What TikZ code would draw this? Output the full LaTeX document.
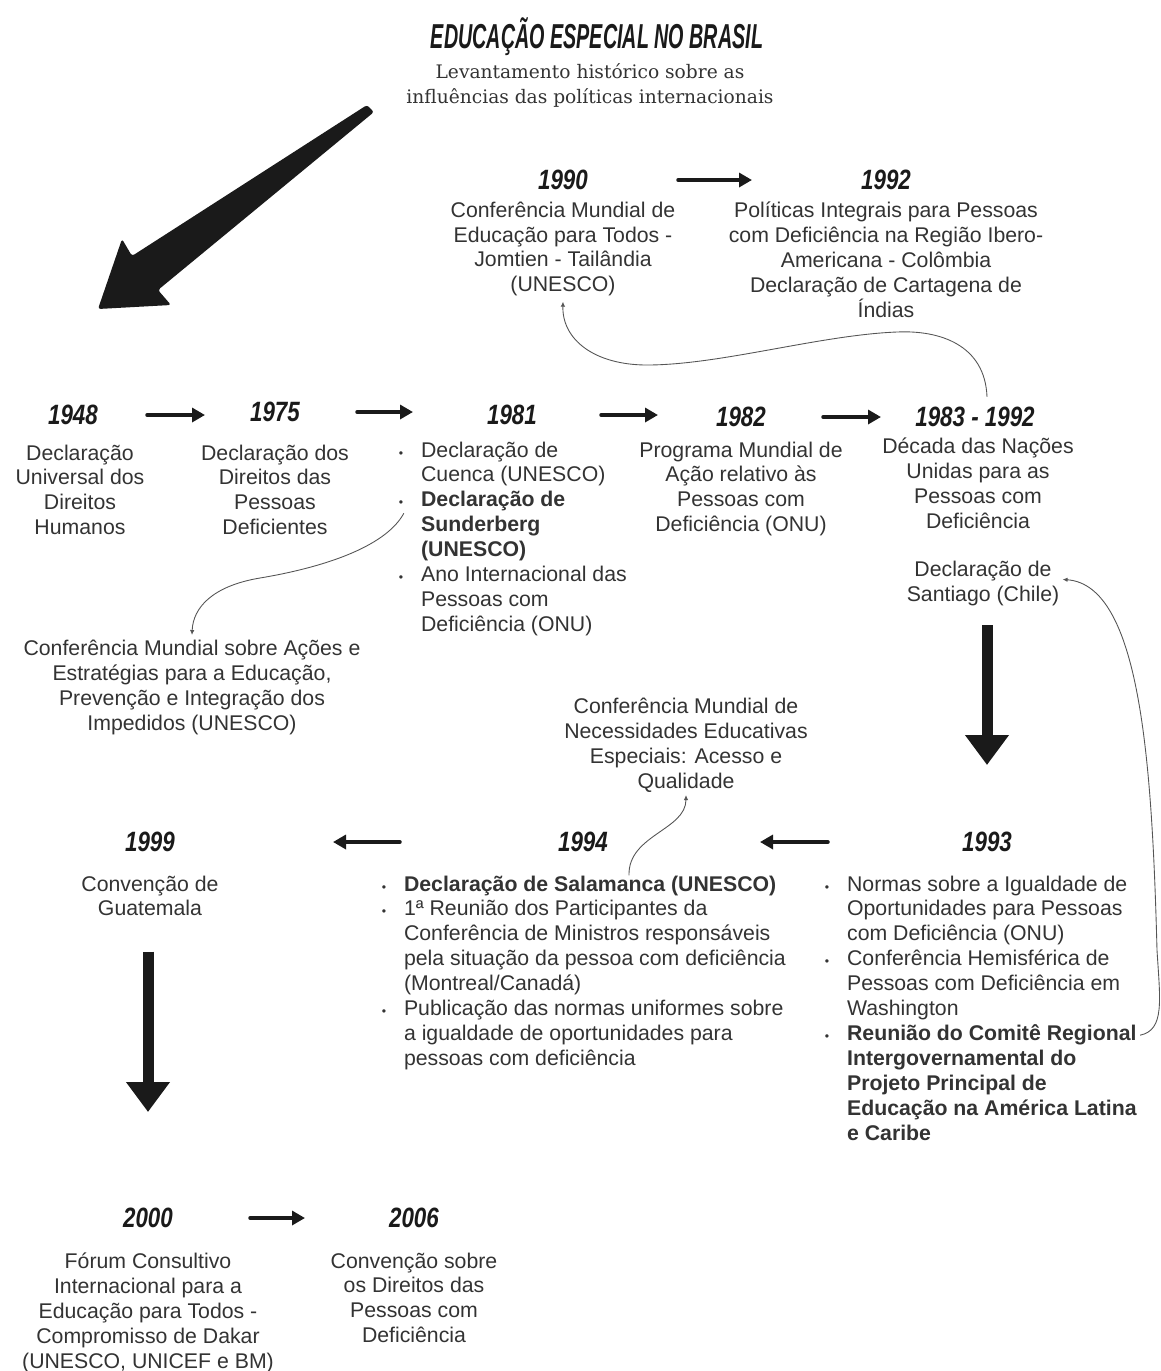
\documentclass[tikz,border=0pt]{standalone}
\usepackage{fontspec}
\setmainfont{Liberation Sans}
\newfontfamily\titlefont{Liberation Sans}[FakeStretch=0.57]
\newfontfamily\yearfont{Liberation Sans}[FakeStretch=0.8]
\newfontfamily\subfont{DejaVu Serif}
\usetikzlibrary{arrows.meta,positioning}

\definecolor{txtgray}{HTML}{333333}
\definecolor{inkblack}{HTML}{1A1A1A}
\definecolor{curvegray}{HTML}{555555}

\newcommand{\bl}{\makebox[13.6pt][l]{\hspace{1pt}\scriptsize\textbullet}}
\newcommand{\ind}{\hspace*{13.6pt}}

\begin{document}
\begin{tikzpicture}[
  x=0.2mm, y=-0.2mm,
  yr/.style  ={font=\yearfont\bfseries\itshape\fontsize{15.9}{18}\selectfont,
               text=inkblack, inner sep=0pt},
  desc/.style={font=\fontsize{12.1}{14.2}\selectfont, text=txtgray,
               align=center, inner sep=0pt},
  lst/.style ={desc, align=left},
  harr/.style={draw=inkblack, line width=0.7mm, line cap=round,
               -{Triangle[length=2.6mm,width=2.8mm]}},
  varr/.style={draw=inkblack, line width=2.2mm,
               -{Triangle[length=6mm,width=8.4mm]}},
  curv/.style={draw=curvegray, line width=0.5pt,
               -{Latex[length=1mm,width=0.9mm]}}
]
\fill[white] (0,0) rectangle (1161,1371);
\useasboundingbox (0,0) rectangle (1161,1371);

% title
\node[font=\titlefont\bfseries\itshape\fontsize{19.7}{22}\selectfont,
      text=inkblack, inner sep=0pt] (title) at (597,37) {EDUCAÇÃO ESPECIAL NO BRASIL};
\node[font=\subfont\fontsize{10.6}{14.2}\selectfont, text=txtgray, align=center,
      inner sep=0pt, anchor=north] (sub) at (590,63)
      {Levantamento histórico sobre as\\influências das políticas internacionais};

% big arrow
\fill[inkblack, rounded corners=1.5pt]
  (367,105) -- (374,112) -- (158,290) -- (171,305) -- (98,309) -- (122,239) -- (132,256) -- cycle;

% top row
\node[yr] (y1990) at (563,180) {1990};
\node[desc, below=2.2mm of y1990] (t1990)
      {Conferência Mundial de\\Educação para Todos -\\Jomtien - Tailândia\\(UNESCO)};
\node[yr] (y1992) at (886,180) {1992};
\node[desc, below=2.2mm of y1992] (t1992)
      {Políticas Integrais para Pessoas\\com Deficiência na Região Ibero-\\Americana - Colômbia\\Declaração de Cartagena de\\Índias};

% middle row
\node[yr] (y1948) at (73,415) {1948};
\node[desc, below=3.8mm of y1948, xshift=1.4mm] (t1948)
      {Declaração\\Universal dos\\Direitos\\Humanos};
\node[yr] (y1975) at (275,412) {1975};
\node[desc, below=4.4mm of y1975] (t1975)
      {Declaração dos\\Direitos das\\Pessoas\\Deficientes};
\node[yr] (y1981) at (512,415) {1981};
\node[lst, below=3.2mm of y1981] (t1981)
      {\bl Declaração de\\
       \ind Cuenca (UNESCO)\\
       \bl\textbf{Declaração de}\\
       \ind\textbf{Sunderberg}\\
       \ind\textbf{(UNESCO)}\\
       \bl Ano Internacional das\\
       \ind Pessoas com\\
       \ind Deficiência (ONU)};
\node[yr] (y1982) at (741,417) {1982};
\node[desc, below=2.8mm of y1982] (t1982)
      {Programa Mundial de\\Ação relativo às\\Pessoas com\\Deficiência (ONU)};
\node[yr] (y8392) at (975,417) {1983 - 1992};
\node[desc, below=2mm of y8392, xshift=0.6mm] (t8392)
      {Década das Nações\\Unidas para as\\Pessoas com\\Deficiência};
\node[desc, below=6.4mm of t8392, xshift=1mm] (santiago)
      {Declaração de\\Santiago (Chile)};

\node[desc, anchor=north] (conf81) at (192,640)
      {Conferência Mundial sobre Ações e\\Estratégias para a Educação,\\Prevenção e Integração dos\\Impedidos (UNESCO)};
\node[desc, anchor=north] (conf94) at (686,698)
      {Conferência Mundial de\\Necessidades Educativas\\Especiais: Acesso e\\Qualidade};

% lower row
\node[yr] (y1999) at (150,842) {1999};
\node[desc, below=4.6mm of y1999] (t1999) {Convenção de\\Guatemala};
\node[yr] (y1994) at (583,842) {1994};
\node[lst, below=4.6mm of y1994] (t1994)
      {\bl\textbf{Declaração de Salamanca (UNESCO)}\\
       \bl 1ª Reunião dos Participantes da\\
       \ind Conferência de Ministros responsáveis\\
       \ind pela situação da pessoa com deficiência\\
       \ind (Montreal/Canadá)\\
       \bl Publicação das normas uniformes sobre\\
       \ind a igualdade de oportunidades para\\
       \ind pessoas com deficiência};
\node[yr] (y1993) at (987,842) {1993};
\node[lst, below=4.6mm of y1993, xshift=-1.4mm] (t1993)
      {\bl Normas sobre a Igualdade de\\
       \ind Oportunidades para Pessoas\\
       \ind com Deficiência (ONU)\\
       \bl Conferência Hemisférica de\\
       \ind Pessoas com Deficiência em\\
       \ind Washington\\
       \bl\textbf{Reunião do Comitê Regional}\\
       \ind\textbf{Intergovernamental do}\\
       \ind\textbf{Projeto Principal de}\\
       \ind\textbf{Educação na América Latina}\\
       \ind\textbf{e Caribe}};

% bottom row
\node[yr] (y2000) at (148,1218) {2000};
\node[desc, below=4.8mm of y2000] (t2000)
      {Fórum Consultivo\\Internacional para a\\Educação para Todos -\\Compromisso de Dakar\\(UNESCO, UNICEF e BM)};
\node[yr] (y2006) at (414,1218) {2006};
\node[desc, below=4.8mm of y2006] (t2006)
      {Convenção sobre\\os Direitos das\\Pessoas com\\Deficiência};

% timeline arrows
\draw[harr, shorten <=14.8mm, shorten >=14mm]   (y1948.center) -- (y1948.center -| y1975.center);
\draw[harr, shorten <=16.4mm, shorten >=19.8mm] (y1975.center) -- (y1975.center -| y1981.center);
\draw[harr, shorten <=17.8mm, shorten >=16.6mm] (y1981.center) -- (y1981.center -| y1982.center);
\draw[harr, shorten <=16.4mm, shorten >=18.8mm] (y1982.center) -- (y1982.center -| y8392.center);
\draw[harr, shorten <=23mm,   shorten >=26.8mm] (y1990.center) -- (y1990.center -| y1992.center);
\draw[harr, shorten <=31.8mm, shorten >=35.4mm] (y1993.center) -- (y1993.center -| y1994.center);
\draw[harr, shorten <=36.6mm, shorten >=36.6mm] (y1994.center) -- (y1994.center -| y1999.center);
\draw[harr, shorten <=20.4mm, shorten >=21.8mm] (y2000.center) -- (y2000.center -| y2006.center);
\draw[varr, shorten <=3.8mm, shorten >=15.4mm]  (santiago.south -| y1993.center) -- (y1993.center);
\draw[varr, shorten <=7mm, shorten >=21.2mm]    (t1999.south -| y2000.center) -- (y2000.center);

% thin curved links
\draw[curv] ([xshift=2.4mm,yshift=2mm]y8392.north) .. controls (985,345) and (940,330) .. (897,332)
  .. controls (820,335) and (720,365) .. (647,365)
  .. controls (595,365) and (562,340) .. ([yshift=-1mm]t1990.south);
\draw[curv] ([xshift=1.4mm,yshift=-14.4mm]t1981.north west) .. controls (385,548) and (320,568) .. (260,578)
  .. controls (212,586) and (193,608) .. ([yshift=1mm]conf81.north);
\draw[curv] ([xshift=9.2mm]t1994.north) .. controls (628,835) and (686,830) .. ([yshift=-0.4mm]conf94.south);
\draw[curv] ([xshift=0.6mm,yshift=-5.4mm]t1993.east) .. controls (1165,1030) and (1160,1000) .. (1157,950)
  .. controls (1152,760) and (1140,585) .. ([xshift=0.6mm,yshift=0.8mm]santiago.east);
\end{tikzpicture}
\end{document}
